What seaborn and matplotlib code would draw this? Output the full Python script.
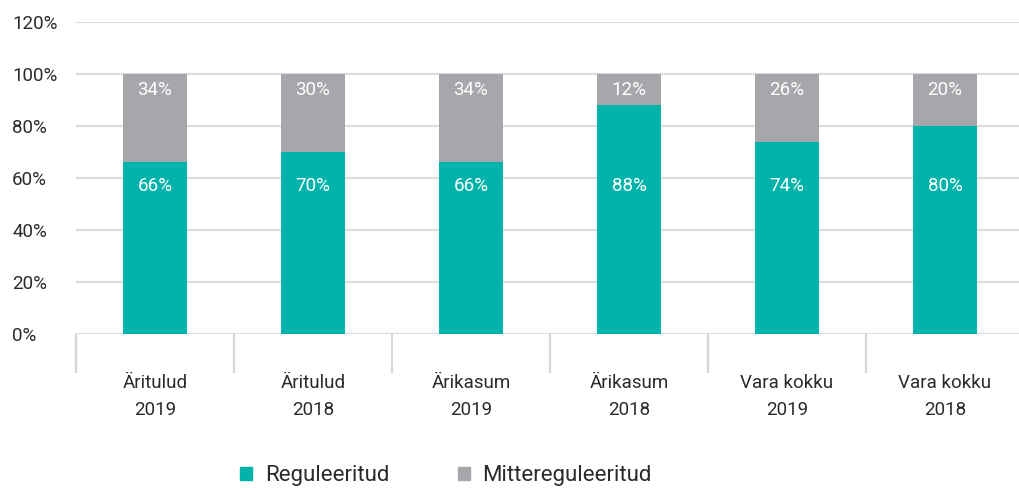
import pandas as pd
import seaborn as sns
import matplotlib.pyplot as plt
from matplotlib.patches import Patch

# data
categories = ["Äritulud\n2019", "Äritulud\n2018", "Ärikasum\n2019",
              "Ärikasum\n2018", "Vara kokku\n2019", "Vara kokku\n2018"]
reguleeritud = [66, 70, 66, 88, 74, 80]
mittereguleeritud = [34, 30, 34, 12, 26, 20]

teal = "#00b3aa"
grey = "#a5a7aa"
text_col = "#2b2b2b"

df = pd.DataFrame({"cat": categories,
                   "reg": reguleeritud,
                   "mitte": mittereguleeritud})
df["total"] = df["reg"] + df["mitte"]

sns.set_style("white")
plt.rcParams["font.family"] = ["Roboto", "DejaVu Sans"]

fig = plt.figure(figsize=(10.19, 4.88), dpi=100)
ax = fig.add_axes([76 / 1019, 154 / 488, 948 / 1019, 312 / 488])

# stacked bars: total in grey, teal on top of it
sns.barplot(data=df, x="cat", y="total", color=grey, width=0.4,
            saturation=1, linewidth=0, ax=ax, zorder=3)
sns.barplot(data=df, x="cat", y="reg", color=teal, width=0.4,
            saturation=1, linewidth=0, ax=ax, zorder=3)

# labels inside bars (fixed heights like the original)
for i, (r, m) in enumerate(zip(reguleeritud, mittereguleeritud)):
    ax.text(i, 57, f"{r}%", ha="center", va="center", color="white",
            fontsize=13.5, zorder=4)
    ax.text(i, 94, f"{m}%", ha="center", va="center", color="white",
            fontsize=13.5, zorder=4)

ax.set_ylim(0, 120)
ax.set_xlim(-0.5, 5.5)
ax.set_yticks(range(0, 121, 20))
ax.set_yticklabels([f"{v}%" for v in range(0, 121, 20)])
ax.yaxis.grid(True, color="#dcdcdc", linewidth=1.6, zorder=0)
ax.set_axisbelow(True)
for s in ax.spines.values():
    s.set_visible(False)
ax.set_xlabel("")
ax.set_ylabel("")

# category separators drawn as long minor ticks
ax.set_xticks([i - 0.5 for i in range(7)], minor=True)
ax.tick_params(axis="x", which="minor", bottom=True, length=28, width=1.6,
               color="#d6d6d6", direction="out")
ax.tick_params(axis="x", which="major", length=0, pad=29,
               labelsize=13.5, labelcolor=text_col)
ax.tick_params(axis="y", length=0, pad=46, labelsize=13.5,
               labelcolor=text_col)
for t in ax.get_yticklabels():
    t.set_horizontalalignment("left")
for t in ax.get_xticklabels():
    t.set_linespacing(1.6)

handles = [Patch(color=teal, label="Reguleeritud"),
           Patch(color=grey, label="Mittereguleeritud")]
fig.legend(handles=handles, loc="center", bbox_to_anchor=(446 / 1019, 1 - 476 / 488),
           ncol=2, frameon=False, fontsize=16, handlelength=0.55,
           handleheight=0.55, handletextpad=0.55, columnspacing=3.1,
           labelcolor=text_col)

fig.savefig("out.png", dpi=100)
